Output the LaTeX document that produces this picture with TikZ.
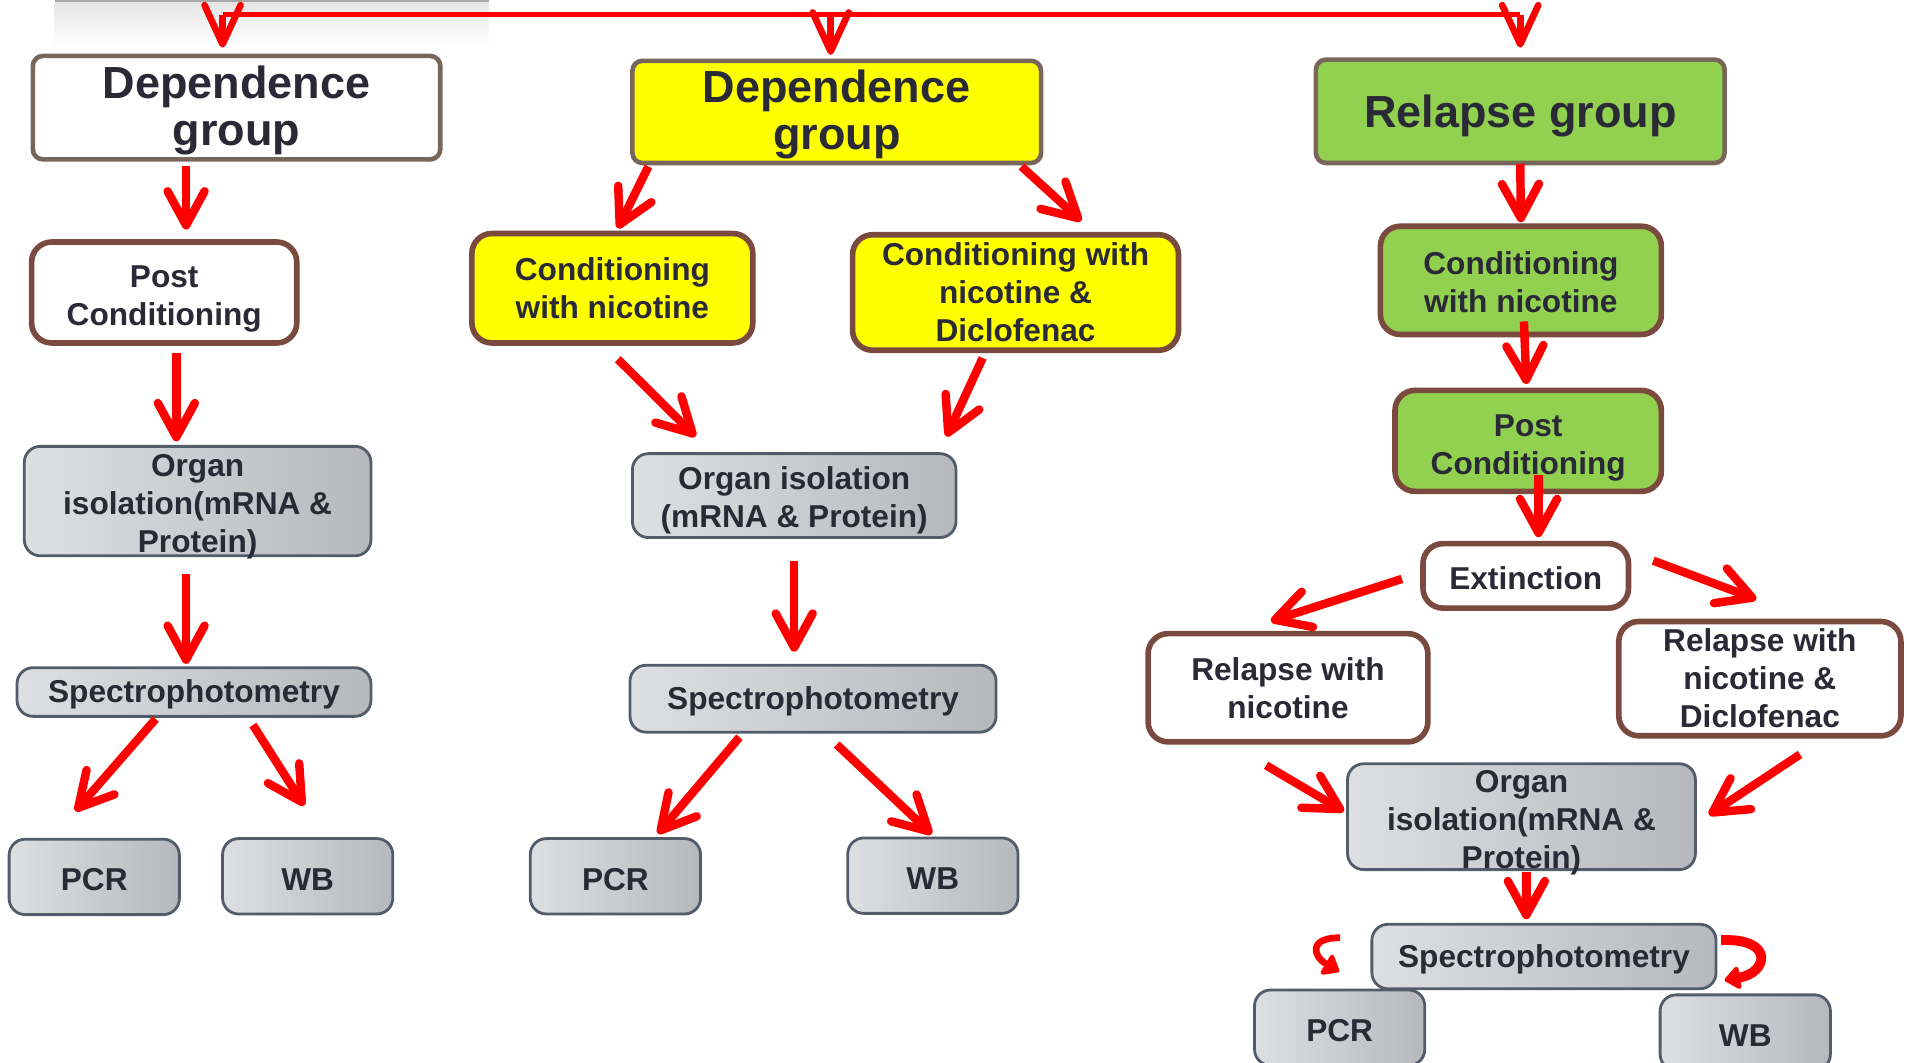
\documentclass[tikz,border=0pt]{standalone}
\usepackage{fontspec}
\setmainfont{Liberation Sans}
\usepackage{tikz}
\usepackage{xcolor}
\usetikzlibrary{arrows.meta,calc}

\definecolor{txtdark}{RGB}{42,42,54}
\definecolor{grpedge}{RGB}{121,102,90}
\definecolor{boxedge}{RGB}{122,74,62}
\definecolor{grayedge}{RGB}{82,92,106}
\definecolor{grayleft}{RGB}{222,223,227}
\definecolor{grayright}{RGB}{182,184,190}
\definecolor{depyellow}{RGB}{255,255,0}
\definecolor{relgreen}{RGB}{146,208,80}
\definecolor{arrred}{RGB}{255,0,0}

\newcommand{\bigtxt}{\fontsize{12.8}{13.4}\selectfont\bfseries}
\newcommand{\smtxt}{\fontsize{9}{10.8}\selectfont\bfseries}
\newcommand{\lift}[1]{\rule{0pt}{#1}}

\tikzset{
    sz/.style 2 args={minimum width=#1*0.12162mm, minimum height=#2*0.12162mm},
    grp/.style={draw=grpedge, line width=1.3pt, rounded corners=1mm, inner sep=0pt, align=center, text=txtdark, font=\bigtxt, execute at begin node={\rule{0pt}{12pt}}},
    stage/.style={draw=boxedge, line width=1.6pt, rounded corners=2mm, fill=white, inner sep=0pt, align=center, text=txtdark, font=\smtxt, execute at begin node={\rule{0pt}{8pt}}},
    lab/.style={draw=grayedge, line width=0.8pt, rounded corners=1.6mm, left color=grayleft, right color=grayright, inner sep=0pt, align=center, text=txtdark, font=\smtxt, execute at begin node={\rule{0pt}{8pt}}},
    flow/.style={draw=arrred, line width=2.4pt, -{Straight Barb[round,length=3.4mm,width=3.7mm]}},
    drop/.style={draw=arrred, line width=1.9pt, -{Straight Barb[round,length=3.9mm,width=3.6mm]}},
    curl/.style={draw=arrred, line width=#1, -{Triangle[round,length=1.7mm,width=2.6mm]}}
}

\begin{document}
\begin{tikzpicture}[x=0.12162mm, y=-0.12162mm]
    \useasboundingbox (0,0) rectangle (1568,874);
    \clip (0,0) rectangle (1568,874);

    % bar left over at the top
    \shade[top color=black!10, bottom color=white] (45,2) rectangle (402,38);
    \fill[black!35] (45,-2) rectangle (402,2);

    % groups
    \node[grp, sz={335}{85}, fill=white] (dep1) at (194.5,88.5) {\lift{10.7pt}Dependence\\group};
    \node[grp, sz={336}{84}, fill=depyellow] (dep2) at (688,92) {\lift{10.7pt}Dependence\\group};
    \node[grp, sz={336}{85}, fill=relgreen] (rel) at (1250,91.5) {Relapse group};

    % steps
    \node[stage, sz={218}{83}] (post1) at (135,240.5) {\lift{9.8pt}Post\\Conditioning};
    \node[stage, sz={231}{90}, fill=depyellow] (cond2a) at (503.5,237) {Conditioning\\with nicotine};
    \node[stage, sz={268}{95}, fill=depyellow] (cond2b) at (835,240.5) {Conditioning with\\nicotine \&\\Diclofenac};
    \node[stage, sz={231}{89}, fill=relgreen] (cond3) at (1250.5,230.5) {\lift{7.8pt}Conditioning\\with nicotine};
    \node[stage, sz={219}{83}, fill=relgreen] (post3) at (1256.5,362.5) {\lift{10pt}Post\\Conditioning};
    \node[stage, sz={169}{53}] (ext) at (1254.5,473.5) {Extinction};
    \node[stage, sz={230}{89}] (relnic) at (1059,565.5) {Relapse with\\nicotine};
    \node[stage, sz={232}{94}] (reldic) at (1447,558) {Relapse with\\nicotine \&\\Diclofenac};

    % lab work
    \node[lab, sz={285}{90}, inner ysep=-4pt] (organ1) at (162.5,412) {\lift{9.6pt}Organ\\isolation(mRNA \&\\Protein)};
    \node[lab, sz={266}{69}] (organ2) at (653,407.5) {\lift{9.4pt}Organ isolation\\(mRNA \& Protein)};
    \node[lab, sz={286}{87}, inner ysep=-4pt] (organ3) at (1251,671.5) {\lift{9.8pt}Organ\\isolation(mRNA \&\\Protein)};
    \node[lab, sz={291}{40}] (spec1) at (159.5,569) {Spectrophotometry};
    \node[lab, sz={301}{55}] (spec2) at (668.5,574.5) {Spectrophotometry};
    \node[lab, sz={283}{53}] (spec3) at (1269.5,786.5) {Spectrophotometry};
    \foreach \nm/\x/\y/\t in {pcr1/77.5/721/PCR, wb1/253/720.5/WB, pcr2/506/720.5/PCR, wb2/767/720/WB, pcr3/1101.5/845/PCR, wb3/1435/849/WB}
        \node[lab, sz={140}{62}] (\nm) at (\x,\y) {\t};

    % top line
    \coordinate (topl) at (183,12);
    \coordinate (topr) at (1250,12);
    \draw[arrred, line width=1.5pt] (topl) -- (topr);
    \draw[drop] (topl) -- ($(dep1.north)+(-11.5,-5)$);
    \draw[drop] ($(dep2.north |- topl)+(-5,0)$) -- ($(dep2.north)+(-5,-3)$);
    \draw[drop] (topr) -- ($(rel.north)+(0,-8)$);

    % left column
    \draw[flow] ($(dep1.south)+(-41.5,4)$) -- ($(post1.north)+(18,-8)$);
    \draw[flow] ($(post1.south)+(10,6)$) -- ($(organ1.north)+(-17.5,-3)$);
    \draw[flow] ($(organ1.south)+(-9.5,14)$) -- ($(spec1.north)+(-6.5,-2)$);
    \draw[flow] ($(spec1.south)+(-31.5,1)$) -- ($(pcr1.north)+(-15.5,-22)$);
    \draw[flow] ($(spec1.south)+(48.5,6)$) -- ($(wb1.north)+(-3,-26)$);

    % middle column
    \draw[flow] ($(dep2.south west)+(15,1)$) -- ($(cond2a.north)+(4.5,-2)$);
    \draw[flow] ($(dep2.south east)+(-18,1)$) -- ($(cond2b.north)+(54,-9)$);
    \draw[flow] ($(cond2a.south)+(4.5,11)$) -- ($(organ2.north west)+(53,-13)$);
    \draw[flow] ($(cond2b.south)+(-27,4)$) -- ($(organ2.north east)+(-9,-13)$);
    \draw[flow] ($(organ2.south)+(0,18)$) -- ($(spec2.north)+(-15.5,-10)$);
    \draw[flow] ($(spec2.south)+(-60.5,3)$) -- ($(pcr2.north)+(35,-3)$);
    \draw[flow] ($(spec2.south)+(19.5,9)$) -- ($(wb2.north)+(-1,-2)$);

    % right column
    \draw[flow] ($(rel.south)+(0,-1)$) -- ($(cond3.north)+(0,-1)$);
    \draw[flow] ($(cond3.south)+(2.5,-13)$) -- ($(post3.north)+(-1.5,-3)$);
    \draw[flow] ($(post3.south)+(8.5,-16)$) -- ($(ext.north)+(10.5,-3)$);
    \draw[flow] ($(ext.west)+(-15,2.5)$) -- ($(relnic.north)+(-14,-8)$);
    \draw[flow] ($(ext.east)+(18,-12.5)$) -- ($(reldic.north)+(-3,-16)$);
    \draw[flow] ($(relnic.south)+(-18,17)$) -- ($(organ3.west)+(-2,-4.5)$);
    \draw[flow] ($(reldic.south)+(33,13)$) -- ($(organ3.east)+(10,-1.5)$);
    \draw[flow] ($(organ3.south)+(4,1)$) -- ($(spec3.north)+(-14.5,-3)$);
    \draw[curl=1.9pt] ($(spec3.west)+(-25,-15.5)$) .. controls +(-26,0) and +(-22,-13) .. ($(pcr3.north)+(-0.5,-14)$);
    \draw[curl=2.8pt] ($(spec3.east)+(3,-13.5)$) .. controls +(44,-2) and +(36,-6) .. ($(wb3.north)+(-17,-11)$);
\end{tikzpicture}
\end{document}
